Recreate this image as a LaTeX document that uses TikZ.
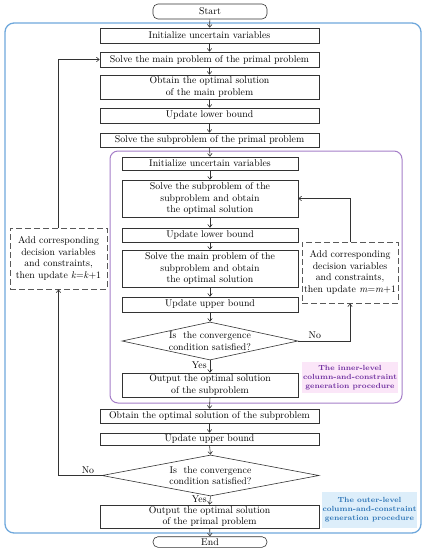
\documentclass[tikz,border=0pt]{standalone}
\usetikzlibrary{arrows.meta,shapes.geometric}
\definecolor{outerblue}{HTML}{6FA8DC}
\definecolor{innerpurple}{HTML}{A57EC8}
\definecolor{pinkfill}{HTML}{FBE6F8}
\definecolor{bluefill}{HTML}{DDEEFA}
\definecolor{purpletext}{HTML}{7030A0}
\definecolor{bluetext}{HTML}{2E75B6}
\begin{document}
\begin{tikzpicture}[x=1pt,y=-1pt,
  font=\fontsize{9.8}{11.5}\selectfont,
  box/.style={draw=black!80, line width=0.6pt, inner sep=0pt, align=center},
  wide/.style={box, minimum width=219pt},
  narrow/.style={box, minimum width=176pt},
  term/.style={draw=black!80, line width=0.6pt, rounded corners=5pt, minimum width=114pt, inner sep=0pt},
  dia/.style={diamond, draw=black!80, line width=0.6pt, inner sep=0pt},
  dbox/.style={draw=black!65, line width=0.9pt, dash pattern=on 6pt off 3pt, minimum width=97pt, minimum height=61pt, align=center, inner sep=0pt},
  lbl/.style={font=\fontsize{7.4}{9}\selectfont\bfseries, align=center, inner sep=0pt},
  arr/.style={draw=black!80, line width=0.6pt, -{Straight Barb[length=2.8pt,width=4.5pt]}},
  ln/.style={draw=black!80, line width=0.6pt}
]
\useasboundingbox (0,0) rectangle (424,550);

% containers
\draw[outerblue, line width=1.3pt, rounded corners=9pt] (5,23) rectangle (421,533);
\draw[innerpurple, line width=1pt, rounded corners=8pt] (110,151) rectangle (402,403);

% label boxes
\node[lbl, fill=pinkfill, text=purpletext, minimum width=96pt, minimum height=31pt] (inlbl) at (350,377.5) {The inner-level\\column-and-constraint\\generation procedure};
\node[lbl, fill=bluefill, text=bluetext, minimum width=95pt, minimum height=36pt] (outlbl) at (369.5,510) {The outer-level\\column-and-constraint\\generation procedure};

% main flow
\node[term, minimum height=15pt] (start) at (210,11.5) {Start};
\node[wide, minimum height=15pt] (init1) at (209.5,35.5) {Initialize uncertain variables};
\node[wide, minimum height=15pt] (main1) at (209.5,59.5) {Solve the main problem of the primal problem};
\node[wide, minimum height=24pt] (obt1) at (209.5,87) {Obtain the optimal solution\\of the main problem};
\node[wide, minimum height=15pt] (lb1) at (209.5,115.5) {Update lower bound};
\node[wide, minimum height=14pt] (sub1) at (209.5,140) {Solve the subproblem of the primal problem};

\node[narrow, minimum height=13pt] (init2) at (210,163.5) {Initialize uncertain variables};
\node[narrow, minimum height=37pt] (sub2) at (210,198.5) {Solve the subproblem of the\\subproblem and obtain\\the optimal solution};
\node[narrow, minimum height=14pt] (lb2) at (210,235) {Update lower bound};
\node[narrow, minimum height=37pt] (main2) at (210,268.5) {Solve the main problem of the\\subproblem and obtain\\the optimal solution};
\node[narrow, minimum height=15pt] (ub2) at (210,304.5) {Update upper bound};
\node[dia, minimum width=176pt, minimum height=38pt] (dia2) at (210,341) {};
\node[align=center, inner sep=0pt] (dia2t) at (210,341) {Is\ \ the convergence\\condition satisfied?};
\node[narrow, minimum height=24pt] (out2) at (210,385) {Output the optimal solution\\of the subproblem};

\node[wide, minimum height=14pt] (obt2) at (209.5,416) {Obtain the optimal solution of the subproblem};
\node[wide, minimum height=12pt] (ub1) at (209.5,439) {Update upper bound};
\node[dia, minimum width=217pt, minimum height=41pt] (dia1) at (210.5,475.5) {};
\node[align=center, inner sep=0pt] (dia1t) at (210.5,475.5) {Is\ \ the convergence\\condition satisfied?};
\node[wide, minimum height=23pt] (out1) at (209.5,516.5) {Output the optimal solution\\of the primal problem};
\node[term, minimum height=10.6pt, rounded corners=5pt] (end) at (210,542) {End};

% dashed boxes
\node[dbox] (ldash) at (58.5,258.5) {Add corresponding\\decision variables\\and constraints,\\then update \textit{k}=\textit{k}+1};
\node[dbox, minimum width=96pt] (rdash) at (350,272.5) {Add corresponding\\decision variables\\and constraints,\\then update \textit{m}=\textit{m}+1};

% arrows
\path[arr] (start) -- (init1);
\path[arr] (init1) -- (main1);
\path[arr] (main1) -- (obt1);
\path[arr] (obt1) -- (lb1);
\path[arr] (lb1) -- (sub1);
\path[arr] (sub1.south) -- (init2.north);
\path[arr] (init2) -- (sub2);
\path[arr] (sub2) -- (lb2);
\path[arr] (lb2) -- (main2);
\path[arr] (main2) -- (ub2);
\path[arr] (ub2.south) -- (dia2.north);
\path[arr] (dia2.south) -- node[left, inner sep=3pt, yshift=1pt] (yes2) {Yes} (out2.north);
\path[arr] (out2.south) -- (obt2.north);
\path[arr] (obt2) -- (ub1);
\path[arr] (ub1.south) -- (dia1.north);
\path[arr] (dia1.south) -- node[left, inner sep=3pt, yshift=1pt] (yes1) {Yes} (out1.north);
\path[arr] (out1) -- (end);

% loops
\path[arr] (dia2.east) -| node[pos=0.16, above, inner sep=2pt] (no2) {No} (rdash.south);
\path[arr] (rdash.north) |- (sub2.east);
\path[arr] (dia1.west) -| node[pos=0.16, above, inner sep=2pt] (no1) {No} (ldash.south);
\path[arr] (ldash.north) |- (main1.west);
\end{tikzpicture}
\end{document}
